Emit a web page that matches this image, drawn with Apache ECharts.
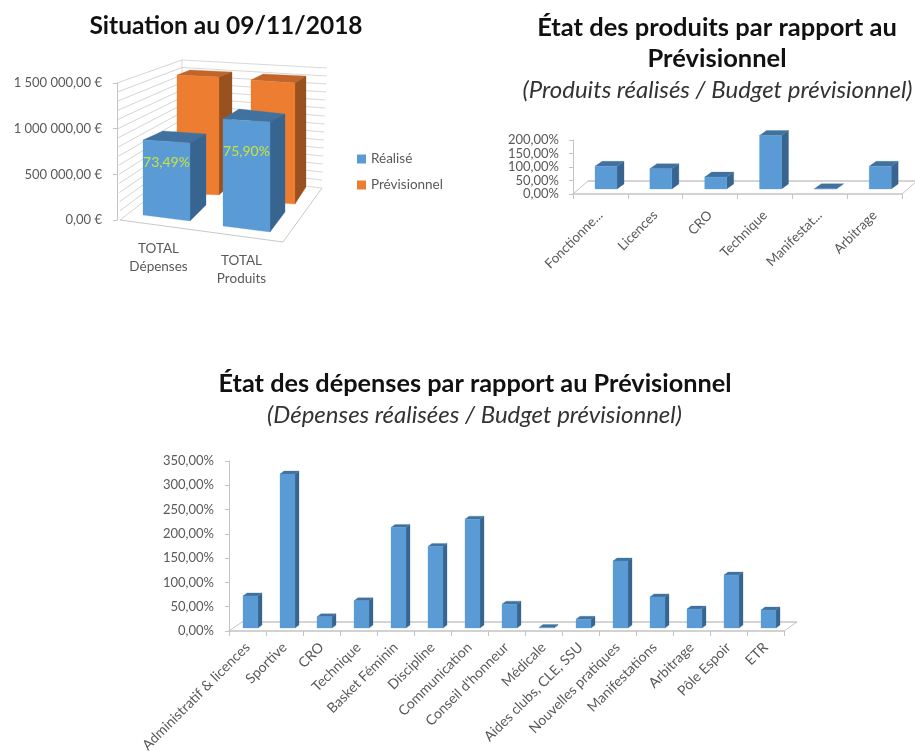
<!DOCTYPE html>
<html><head><meta charset="utf-8">
<style>html,body{margin:0;padding:0;background:#fff}#main{width:915px;height:751px;filter:blur(0.55px)}</style>
<script src="https://cdn.jsdelivr.net/npm/echarts@6/dist/echarts.min.js"></script>
</head><body><div id="main"></div>
<script>
// ---- data ----
const totalCategories = ['TOTAL\nDépenses', 'TOTAL\nProduits'];
const totalRealise = [800000, 1060000];
const totalPrevisionnel = [1360000, 1390000];
const totalLabels = ['73,49%', '75,90%'];

const produitsCategories = ['Fonctionne...', 'Licences', 'CRO', 'Technique', 'Manifestat...', 'Arbitrage'];
const produitsValues = [84, 75, 44, 198, 1, 84];

const depensesCategories = ['Administratif & licences', 'Sportive', 'CRO', 'Technique', 'Basket Féminin', 'Discipline', 'Communication', "Conseil d'honneur", 'Médicale', 'Aides clubs, CLE, SSU', 'Nouvelles pratiques', 'Manifestations', 'Arbitrage', 'Pôle Espoir', 'ETR'];
const depensesValues = [66, 317, 23, 56, 207, 168, 224, 49, 1, 18, 138, 64, 39, 109, 37];

// ---- styles ----
const FONT = 'Lato, "Open Sans", sans-serif';
const BLUE = {front:'#5b9bd5', side:'#38658f', top:'#41729f'};
const ORANGE = {front:'#ed7d31', side:'#99511f', top:'#c2652a'};
const GREY = '#c4c4c4', TXT = '#595959';

function poly(points, fill){ return {type:'polygon', silent:true, shape:{points}, style:{fill, stroke:fill, lineWidth:0.3}}; }
function line(a, b, stroke, w){ return {type:'line', silent:true, shape:{x1:a[0],y1:a[1],x2:b[0],y2:b[1]}, style:{stroke, lineWidth:w||1, fill:null}}; }

// small oblique bars (charts 2 and 3)
function simpleBar(g){
  return function(params, api){
    const p = api.coord([api.value(0), 0]);
    const h = api.size([0, api.value(1)])[1];
    const x = p[0] + g.off, b = p[1] - g.lift, t = b - h;
    return {type:'group', children:[
      poly([[x+g.w,t],[x+g.w+g.dx,t-g.dy],[x+g.w+g.dx,b-g.dy],[x+g.w,b]], BLUE.side),
      poly([[x,t],[x+g.dx,t-g.dy],[x+g.w+g.dx,t-g.dy],[x+g.w,t]], BLUE.top),
      poly([[x,t],[x+g.w,t],[x+g.w,b],[x,b]], BLUE.front)
    ]};
  };
}
// back line and sides of the flat floor (charts 2 and 3)
function floor(g){
  return function(params, api){
    const c = params.coordSys, y = c.y + c.height;
    return {type:'group', children:[
      line([c.x+g.dx, y-g.dy], [c.x+c.width+g.dx, y-g.dy], '#a8a8a8'),
      line([c.x, y], [c.x+g.dx, y-g.dy], GREY),
      line([c.x+c.width, y], [c.x+c.width+g.dx, y-g.dy], GREY)
    ]};
  };
}
// perspective bars of chart 1, one geometry per category
function perspBar(geoms, colors, labels){
  return function(params, api){
    const i = api.value(0), g = geoms[i];
    const p = api.coord([i, 0]);
    const h = api.size([0, api.value(1)])[1] * g.scale;
    const x = p[0] + g.off, b = p[1] - g.lift, t = b - h;
    const fr = x + g.w, ftr = t + g.st, fbr = b + g.sb;
    const kids = [
      poly([[x+g.bl[0], t+g.bl[1]], [fr+g.tr[0], ftr+g.tr[1]], [fr, ftr], [x, t]], colors.top),
      poly([[fr, ftr], [fr+g.tr[0], ftr+g.tr[1]], [fr+g.br[0], fbr+g.br[1]], [fr, fbr]], colors.side),
      poly([[x, t], [fr, ftr], [fr, fbr], [x, b]], colors.front)
    ];
    if (labels) kids.push({type:'text', silent:true, style:{text:labels[i], x:x+g.w/2, y:t+g.ly, align:'center', verticalAlign:'middle', fill:'#c8e33a', font:'14px '+FONT}});
    return {type:'group', children:kids};
  };
}
// walls and floor of chart 1
function walls(ticks){
  return function(params, api){
    const c = params.coordSys, x0 = c.x, y0 = c.y + c.height;
    const frontLeft = [x0+3, y0], frontRight = [x0+c.width, y0+22];
    const backLeft = [x0+65, y0-48], backRight = [x0+205, y0-32];
    const kids = [];
    ticks.forEach(function(v){
      const f = (y0 - api.coord([0, v])[1]) / c.height;
      const a = [x0 + 3*(1-f), y0 - f*c.height];
      const b = [backLeft[0], backLeft[1] - f*112];
      const d = [backRight[0] + 5*f, backRight[1] - f*120];
      kids.push(line(a, b, '#cfcfcf', 0.9), line(b, d, '#d4d4d4', 0.9));
    });
    kids.push(line(backLeft, [backLeft[0], backLeft[1]-112], '#d4d4d4', 0.9));
    kids.push(line(frontLeft, frontRight, '#c8c8c8', 1));
    kids.push(line(frontRight, backRight, '#c8c8c8', 1));
    return {type:'group', children:kids};
  };
}
const wallTicks = [0,100000,200000,300000,400000,500000,600000,700000,800000,900000,1000000,1100000,1200000,1300000,1400000,1500000];
const euro = v => v.toFixed(2).replace('.', ',').replace(/\B(?=(\d{3})+(?!\d))/g, ' ') + ' €';
const pct = v => v.toFixed(2).replace('.', ',') + '%';

function valueAxis(grid, max, interval, fmt, size, margin){
  return {type:'value', gridIndex:grid, min:0, max, interval, splitLine:{show:false},
    axisLine:{show:true, lineStyle:{color:GREY}}, axisTick:{show:true, length:4, lineStyle:{color:GREY}},
    axisLabel:{formatter:fmt, color:TXT, fontFamily:FONT, fontSize:size, margin}};
}
function catAxis(grid, data, rotate, size, margin){
  return {type:'category', gridIndex:grid, data, axisLine:{show:true, lineStyle:{color:GREY, width:1.5}},
    axisTick:{show:true, length:5, alignWithLabel:false, lineStyle:{color:GREY}},
    axisLabel:{interval:0, rotate, color:TXT, fontFamily:FONT, fontSize:size, margin}};
}
const idx = arr => arr.map((v,i)=>[i,v]);
const smallG = {off:-5.4, lift:5, w:22, dx:7, dy:5};
const wideG = {off:-4.5, lift:3, w:15, dx:4, dy:3};

const option = {
  animation:false, backgroundColor:'#fff', textStyle:{fontFamily:FONT},
  title:[
    {text:'Situation au 09/11/2018', left:221, top:9, textAlign:'center', textStyle:{fontFamily:FONT, fontWeight:'bold', fontSize:24.5, color:'#111'}},
    {text:'État des produits par rapport au\nPrévisionnel', left:712, top:7, textAlign:'center', textStyle:{fontFamily:FONT, fontWeight:'bold', fontSize:25.5, lineHeight:31, color:'#111'}},
    {text:'(Produits réalisés / Budget prévisionnel)', left:712.5, top:73, textAlign:'center', textStyle:{fontFamily:FONT, fontStyle:'italic', fontWeight:'normal', fontSize:24, color:'#333'}},
    {text:'État des dépenses par rapport au Prévisionnel', left:470, top:366, textAlign:'center', textStyle:{fontFamily:FONT, fontWeight:'bold', fontSize:25.3, color:'#111'}},
    {text:'(Dépenses réalisées / Budget prévisionnel)', left:469.5, top:398, textAlign:'center', textStyle:{fontFamily:FONT, fontStyle:'italic', fontWeight:'normal', fontSize:24, color:'#333'}}
  ],
  legend:{data:['Réalisé','Prévisionnel'], orient:'vertical', left:352, top:147, itemWidth:9, itemHeight:9, itemGap:12, icon:'rect', textStyle:{color:TXT, fontFamily:FONT, fontSize:13.5}},
  grid:[
    {left:117, top:83, width:166, height:137, outerBoundsMode:'none'},
    {left:573, top:140, width:329, height:54, outerBoundsMode:'none'},
    {left:229, top:461, width:555, height:170, outerBoundsMode:'none'}
  ],
  xAxis:[
    {type:'category', gridIndex:0, data:[totalCategories[0], {value:totalCategories[1], textStyle:{padding:[12,0,0,0]}}],
      axisLine:{show:false}, axisTick:{show:false},
      axisLabel:{interval:0, color:TXT, fontFamily:FONT, fontSize:13.5, lineHeight:18.5, margin:19}},
    catAxis(1, produitsCategories, 45, 13.3, 19),
    catAxis(2, depensesCategories, 45, 14, 14)
  ],
  yAxis:[
    valueAxis(0, 1500000, 500000, euro, 13, 15),
    valueAxis(1, 200, 50, pct, 13, 14),
    valueAxis(2, 350, 50, pct, 13, 15)
  ],
  series:[
    {type:'custom', name:'murs', xAxisIndex:0, yAxisIndex:0, data:[[0,0]], renderItem:walls(wallTicks), encode:{x:0,y:1}, clip:false, silent:true},
    {type:'custom', name:'Prévisionnel', xAxisIndex:0, yAxisIndex:0, data:idx(totalPrevisionnel), encode:{x:0,y:1}, clip:false, itemStyle:{color:ORANGE.front},
      renderItem:perspBar([
        {off:18.5, lift:27, w:42, sb:2, st:2, br:[13,-12], tr:[13,-5], bl:[13,-5], scale:0.95},
        {off:9.5, lift:19, w:44, sb:3, st:3, br:[11,-17], tr:[11,-7], bl:[12,-6], scale:0.953}
      ], ORANGE)},
    {type:'custom', name:'Réalisé', xAxisIndex:0, yAxisIndex:0, data:idx(totalRealise), encode:{x:0,y:1}, clip:false, itemStyle:{color:BLUE.front},
      renderItem:perspBar([
        {off:-15.5, lift:5, w:47, sb:6, st:3, br:[16,-16], tr:[16,-9], bl:[20,-9], scale:1.027, ly:23},
        {off:-18.5, lift:-6, w:47, sb:6, st:3, br:[15,-20], tr:[15,-8], bl:[16,-10], scale:1.105, ly:32}
      ], BLUE, totalLabels)},
    {type:'custom', name:'sol2', xAxisIndex:1, yAxisIndex:1, data:[[0,0]], renderItem:floor({dx:15,dy:13}), encode:{x:0,y:1}, clip:false, silent:true},
    {type:'custom', name:'Produits', xAxisIndex:1, yAxisIndex:1, data:idx(produitsValues), encode:{x:0,y:1}, clip:false, renderItem:simpleBar(smallG)},
    {type:'custom', name:'sol3', xAxisIndex:2, yAxisIndex:2, data:[[0,0]], renderItem:floor({dx:13,dy:9}), encode:{x:0,y:1}, clip:false, silent:true},
    {type:'custom', name:'Dépenses', xAxisIndex:2, yAxisIndex:2, data:idx(depensesValues), encode:{x:0,y:1}, clip:false, renderItem:simpleBar(wideG)}
  ]
};
echarts.init(document.getElementById('main'), null, {renderer:'canvas'}).setOption(option);
</script></body></html>
